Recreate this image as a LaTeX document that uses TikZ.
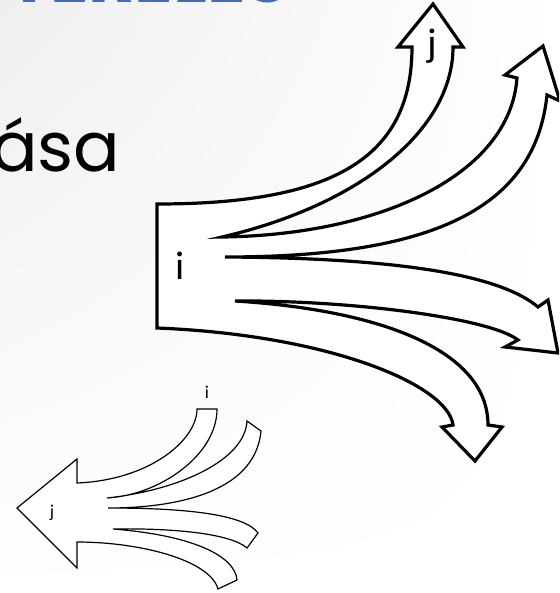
\documentclass[tikz,border=0pt]{standalone}
\usepackage{fontspec}
\usepackage{tikz}
\usetikzlibrary{arrows.meta,positioning,calc,shadings}
\usepackage{xcolor}
\definecolor{titleBlue}{HTML}{4A69AE}
\definecolor{bgGray}{HTML}{EFEFEF}
\newfontfamily\gothicfont{Poppins}
\newfontfamily\labelfont{Carlito}

\begin{document}
\begin{tikzpicture}[x=1pt, y=-1pt,
    bigarrow/.style={draw=black, fill=white, line width=3.2pt, line join=miter},
    smallarrow/.style={draw=black, fill=white, line width=1.2pt, line join=miter},
    lbl/.style={inner sep=0pt, font=\labelfont\fontsize{40}{44}\selectfont}]
    \clip (0,0) rectangle (559,593);
    \shade[upper left=bgGray, upper right=white, lower left=white, lower right=white] (0,0) rectangle (559,593);
    \node[anchor=base west, inner sep=0pt, text=titleBlue, font=\gothicfont\bfseries\fontsize{71}{76}\selectfont] (title) at (8,3) {TERELÉS};
    \node[anchor=base west, inner sep=0pt, font=\gothicfont\fontsize{69}{76}\selectfont] (word) at (-9,172) {ása};
    % splitting arrow
    \draw[bigarrow] (157,204) .. controls (330,204) and (412,160) .. (412,47)
      -- (398,47) -- (433,4) -- (463,47) -- (453,47)
      .. controls (453,130) and (360,205) .. (222,237)
      .. controls (380,235) and (510,175) .. (517,78)
      -- (505,75) -- (543,46) -- (560,101) -- (547,95)
      .. controls (535,210) and (430,257) .. (225,257)
      .. controls (400,258) and (500,275) .. (538,307)
      -- (548,300) -- (558,353) -- (505,347) -- (518,340)
      .. controls (490,318) and (350,300) .. (235,301)
      .. controls (380,310) and (488,350) .. (488,425)
      -- (502,427) -- (475,461) -- (442,427) -- (453,425)
      .. controls (448,385) and (330,335) .. (157,328) -- cycle;
    \node[lbl] (bi) at (180,266) {i};
    \node[lbl] (bj) at (432,46) {j};
    % merging arrow
    \draw[smallarrow] (17,508) -- (77,459) -- (77,483)
      .. controls (150,480) and (197,440) .. (197,409) -- (217,409)
      .. controls (217,455) and (160,495) .. (107,498)
      .. controls (180,490) and (245,460) .. (247,421) -- (261,431)
      .. controls (255,495) and (170,508) .. (108,508)
      .. controls (190,508) and (245,515) .. (258,533) -- (247,548)
      .. controls (230,533) and (170,528) .. (113,529)
      .. controls (190,535) and (235,555) .. (237,580) -- (218,589)
      .. controls (210,560) and (140,542) .. (77,542)
      -- (77,568) -- cycle;
    \node[lbl, font=\labelfont\fontsize{18}{20}\selectfont] (si) at (207,392) {i};
    \node[lbl, font=\labelfont\fontsize{18}{20}\selectfont] (sj) at (52,513) {j};
\end{tikzpicture}
\end{document}
